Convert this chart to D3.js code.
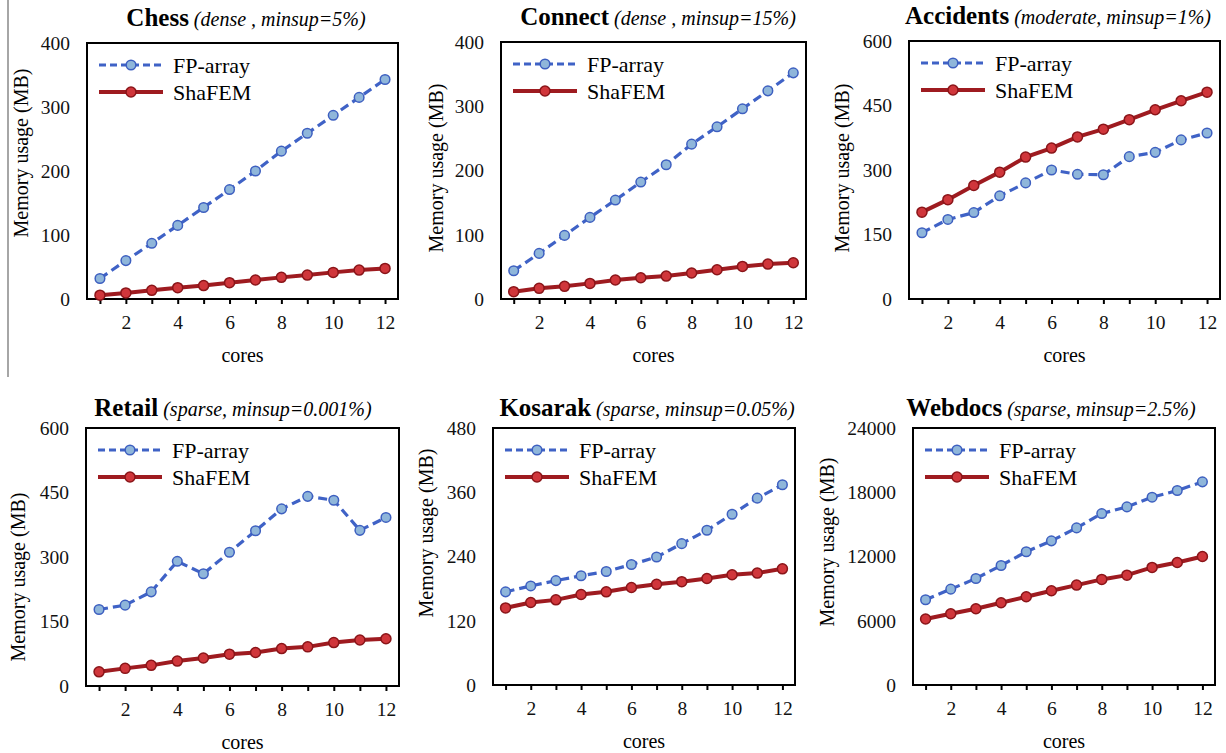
<!DOCTYPE html>
<html>
<head>
<meta charset="utf-8">
<script src="https://cdn.jsdelivr.net/npm/d3@7"></script>
<style>
  body { margin: 0; background: #fff; }
  svg { display: block; }
  svg text { font-family: "Liberation Serif", "Times New Roman", Times, "DejaVu Serif", serif; }
</style>
</head>
<body>
<script>
// x values shared by every panel
var cores = [1, 2, 3, 4, 5, 6, 7, 8, 9, 10, 11, 12];
var xTickLabels = [2, 4, 6, 8, 10, 12];

// memory usage (MB)
var chessFP  = [32, 60, 87, 115, 143, 171, 200, 231, 259, 287, 315, 343];
var chessSha = [6, 9.5, 13.5, 17.7, 21, 25.5, 29.6, 33.8, 37.4, 41.6, 45.2, 47.8];
var connectFP  = [44, 71, 99, 127, 154, 182, 209, 241, 268, 296, 324, 352];
var connectSha = [11.4, 16.6, 19.7, 24.3, 29.5, 33, 35.7, 40.4, 45.5, 50.7, 54.3, 56.4];
var accidentsFP  = [154, 185, 201, 240, 270, 300, 290, 289, 331, 341, 370, 386];
var accidentsSha = [202, 231, 264, 295, 330, 351, 377, 395, 417, 440, 461, 481];
var retailFP  = [178, 188, 219, 290, 261, 311, 361, 412, 441, 432, 362, 392];
var retailSha = [33, 41, 48, 58, 65, 74, 78, 87, 91, 101, 107, 110];
var kosarakFP  = [174, 185, 195, 204, 212, 225, 239, 264, 289, 319, 349, 374];
var kosarakSha = [144, 154, 159, 169, 174, 182, 188, 193, 199, 206, 209, 217];
var webdocsFP  = [7960, 8950, 9950, 11160, 12440, 13460, 14670, 16010, 16630, 17540, 18160, 18970];
var webdocsSha = [6160, 6650, 7120, 7680, 8240, 8800, 9330, 9860, 10260, 10980, 11440, 12000];

// y axis ticks
var yTicksA = [0, 100, 200, 300, 400];
var yTicksB = [0, 150, 300, 450, 600];
var yTicksC = [0, 120, 240, 360, 480];
var yTicksD = [0, 6000, 12000, 18000, 24000];

var names = ["Chess", "Connect", "Accidents", "Retail", "Kosarak", "Webdocs"];
var subtitles = ["(dense , minsup=5%)", "(dense , minsup=15%)", "(moderate, minsup=1%)",
                 "(sparse, minsup=0.001%)", "(sparse, minsup=0.05%)", "(sparse, minsup=2.5%)"];
var seriesNames = ["FP-array", "ShaFEM"];

var panels = [
  {fp: chessFP, sha: chessSha, ticks: yTicksA},
  {fp: connectFP, sha: connectSha, ticks: yTicksA},
  {fp: accidentsFP, sha: accidentsSha, ticks: yTicksB},
  {fp: retailFP, sha: retailSha, ticks: yTicksB},
  {fp: kosarakFP, sha: kosarakSha, ticks: yTicksC},
  {fp: webdocsFP, sha: webdocsSha, ticks: yTicksD}
];

// layout: plot box [x0, y0, x1, y1], title centre, y label centre
var layout = [
  {box: [87, 43, 398, 299],      title: [246, 26],    ylab: [21, 153]},
  {box: [501, 42, 806, 299],     title: [658, 25],    ylab: [436, 168]},
  {box: [909, 41, 1220, 299],    title: [1058, 24],   ylab: [842, 168]},
  {box: [86, 428, 399, 686],     title: [233, 416],   ylab: [18, 577]},
  {box: [493, 428, 795, 685],    title: [647, 416],   ylab: [426, 533]},
  {box: [913, 428, 1215, 685],   title: [1051, 416],  ylab: [827, 542]}
];

var fpLine = "#3f62c6", fpFill = "#8fb6da", fpStroke = "#3d5fc0";
var shaLine = "#9e1b20", shaFill = "#d0363b", shaStroke = "#8a1519";
var serif = "'Liberation Serif', 'Times New Roman', Times, 'DejaVu Serif', serif";

var svg = d3.select("body").append("svg")
  .attr("width", 1226)
  .attr("height", 753);

// thin grey rule at the far left
svg.append("line")
  .attr("x1", 8).attr("x2", 8)
  .attr("y1", 0).attr("y2", 377)
  .attr("stroke", "#888")
  .attr("stroke-width", 1.5);

panels.forEach(function(p, i) {
  var L = layout[i];
  var x0 = L.box[0], y0 = L.box[1], x1 = L.box[2], y1 = L.box[3];

  var xScale = d3.scaleLinear().domain([0.5, 12.5]).range([x0, x1]);
  var yScale = d3.scaleLinear().domain([0, d3.max(p.ticks)]).range([y1, y0]);

  var g = svg.append("g");

  // title
  var t = g.append("text")
    .attr("x", L.title[0])
    .attr("y", L.title[1])
    .attr("text-anchor", "middle")
    .attr("fill", "#000");
  t.append("tspan")
    .attr("font-weight", "bold")
    .attr("font-size", 25)
    .text(names[i]);
  t.append("tspan")
    .attr("font-style", "italic")
    .attr("font-size", 20)
    .text(" " + subtitles[i]);

  // x axis, ticks at every core, labels on even cores
  var xAxis = d3.axisBottom(xScale)
    .tickValues(cores)
    .tickSize(5)
    .tickSizeOuter(0)
    .tickFormat(function(d) { return xTickLabels.indexOf(d) >= 0 ? d : ""; });

  var gx = g.append("g")
    .attr("transform", "translate(0," + y1 + ")")
    .call(xAxis)
    .attr("font-family", serif);
  gx.select(".domain").remove();
  gx.selectAll("line").attr("stroke", "#000").attr("stroke-width", 2);
  gx.selectAll("text")
    .attr("font-size", 19.5)
    .attr("fill", "#111")
    .attr("y", 16)
    .attr("dy", "0.71em");

  // y axis, labels only
  var yAxis = d3.axisLeft(yScale)
    .tickValues(p.ticks)
    .tickSize(0)
    .tickPadding(17)
    .tickFormat(d3.format("d"));

  var gy = g.append("g")
    .attr("transform", "translate(" + x0 + ",0)")
    .call(yAxis)
    .attr("font-family", serif);
  gy.select(".domain").remove();
  gy.selectAll("text")
    .attr("font-size", 19.5)
    .attr("fill", "#111");

  // plot box
  g.append("rect")
    .attr("x", x0).attr("y", y0)
    .attr("width", x1 - x0).attr("height", y1 - y0)
    .attr("fill", "none")
    .attr("stroke", "#000")
    .attr("stroke-width", 2);

  // axis titles
  g.append("text")
    .attr("x", (x0 + x1) / 2)
    .attr("y", y1 + 56)
    .attr("text-anchor", "middle")
    .attr("dominant-baseline", "central")
    .attr("font-size", 20)
    .text("cores");

  g.append("text")
    .attr("transform", "translate(" + L.ylab[0] + "," + L.ylab[1] + ") rotate(-90)")
    .attr("text-anchor", "middle")
    .attr("dominant-baseline", "central")
    .attr("font-size", 20)
    .text("Memory usage (MB)");

  var line = d3.line()
    .x(function(d, j) { return xScale(cores[j]); })
    .y(function(d) { return yScale(d); });

  // ShaFEM
  g.append("path")
    .datum(p.sha)
    .attr("d", line)
    .attr("fill", "none")
    .attr("stroke", shaLine)
    .attr("stroke-width", 4);
  g.selectAll(".shaDot")
    .data(p.sha)
    .enter().append("circle")
    .attr("class", "shaDot")
    .attr("cx", function(d, j) { return xScale(cores[j]); })
    .attr("cy", function(d) { return yScale(d); })
    .attr("r", 5)
    .attr("fill", shaFill)
    .attr("stroke", shaStroke)
    .attr("stroke-width", 1.5);

  // FP-array
  g.append("path")
    .datum(p.fp)
    .attr("d", line)
    .attr("fill", "none")
    .attr("stroke", fpLine)
    .attr("stroke-width", 3.2)
    .attr("stroke-dasharray", "9,5");
  g.selectAll(".fpDot")
    .data(p.fp)
    .enter().append("circle")
    .attr("class", "fpDot")
    .attr("cx", function(d, j) { return xScale(cores[j]); })
    .attr("cy", function(d) { return yScale(d); })
    .attr("r", 4.8)
    .attr("fill", fpFill)
    .attr("stroke", fpStroke)
    .attr("stroke-width", 1.5);

  // legend
  var legend = g.selectAll(".legend")
    .data(seriesNames)
    .enter().append("g")
    .attr("class", "legend")
    .attr("transform", function(d, k) { return "translate(" + x0 + "," + (y0 + 22 + k * 27) + ")"; });

  legend.append("line")
    .attr("x1", 12).attr("x2", 76)
    .attr("stroke", function(d, k) { return k === 0 ? fpLine : shaLine; })
    .attr("stroke-width", function(d, k) { return k === 0 ? 3.2 : 4; })
    .attr("stroke-dasharray", function(d, k) { return k === 0 ? "7,4" : null; });

  legend.append("circle")
    .attr("cx", 44)
    .attr("r", function(d, k) { return k === 0 ? 4.8 : 5; })
    .attr("fill", function(d, k) { return k === 0 ? fpFill : shaFill; })
    .attr("stroke", function(d, k) { return k === 0 ? fpStroke : shaStroke; })
    .attr("stroke-width", 1.5);

  legend.append("text")
    .attr("x", 86)
    .attr("dominant-baseline", "central")
    .attr("font-size", 22)
    .text(function(d) { return d; });
});
</script>
</body>
</html>
